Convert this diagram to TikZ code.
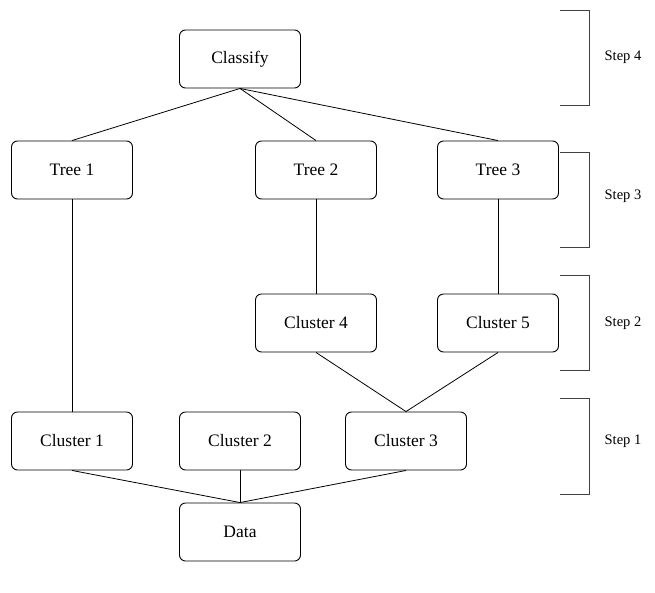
\documentclass[tikz,border=0pt]{standalone}
\usepackage{fontspec}
\setmainfont{Liberation Serif}
\begin{document}
\begin{tikzpicture}[x=1pt,y=-1pt,
  box/.style={draw,rounded corners=6pt,line width=0.9pt,minimum width=121pt,minimum height=58pt,inner sep=0pt,font=\fontsize{17.5}{20}\selectfont},
  link/.style={line width=0.8pt},
  bracket/.style={line width=0.9pt,draw=black!75},
  steplabel/.style={font=\fontsize{14.5}{17}\selectfont}]
\useasboundingbox (0,0) rectangle (655,592);
% nodes
\node[box] (classify) at (240,59) {Classify};
\node[box] (t1) at (72,170) {Tree 1};
\node[box] (t2) at (316,170) {Tree 2};
\node[box] (t3) at (498,170) {Tree 3};
\node[box] (c4) at (316,323) {Cluster 4};
\node[box] (c5) at (498,323) {Cluster 5};
\node[box] (c1) at (72,441) {Cluster 1};
\node[box] (c2) at (240,441) {Cluster 2};
\node[box] (c3) at (406,441) {Cluster 3};
\node[box] (data) at (240,532) {Data};
% connectors
\draw[link] (classify.south) -- (t1.north);
\draw[link] (classify.south) -- (t2.north);
\draw[link] (classify.south) -- (t3.north);
\draw[link] (t1.south) -- (c1.north);
\draw[link] (t2.south) -- (c4.north);
\draw[link] (t3.south) -- (c5.north);
\draw[link] (c4.south) -- (c3.north);
\draw[link] (c5.south) -- (c3.north);
\draw[link] (c1.south) -- (data.north);
\draw[link] (c2.south) -- (data.north);
\draw[link] (c3.south) -- (data.north);
% step brackets
\draw[bracket] (560,10) -- (589,10) -- (589,105) -- (560,105);
\draw[bracket] (560,152) -- (589,152) -- (589,247) -- (560,247);
\draw[bracket] (560,275) -- (589,275) -- (589,370) -- (560,370);
\draw[bracket] (560,398) -- (589,398) -- (589,494) -- (560,494);
\node[steplabel] (s4) at (623,57) {Step 4};
\node[steplabel] (s3) at (623,196) {Step 3};
\node[steplabel] (s2) at (623,323) {Step 2};
\node[steplabel] (s1) at (623,441) {Step 1};
\end{tikzpicture}
\end{document}
